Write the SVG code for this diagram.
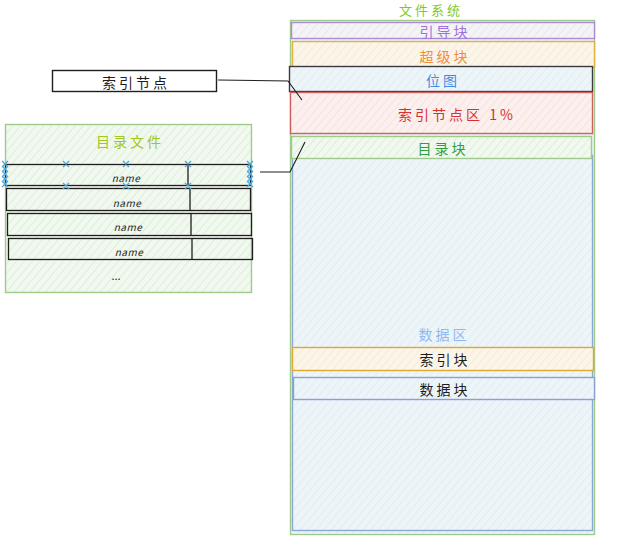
<svg xmlns="http://www.w3.org/2000/svg" width="630" height="558" viewBox="0 0 630 558">
<defs>
<pattern id="hg" width="6" height="6" patternUnits="userSpaceOnUse" patternTransform="rotate(40)"><rect width="6" height="6" fill="#f1f8ef"/><line x1="0" y1="0" x2="0" y2="6" stroke="#cbe4c3" stroke-width="1"/></pattern>
<pattern id="hb" width="6" height="6" patternUnits="userSpaceOnUse" patternTransform="rotate(40)"><rect width="6" height="6" fill="#eef5f9"/><line x1="0" y1="0" x2="0" y2="6" stroke="#d0e4f0" stroke-width="1"/></pattern>
<pattern id="hr" width="6" height="6" patternUnits="userSpaceOnUse" patternTransform="rotate(40)"><rect width="6" height="6" fill="#fbf0ee"/><line x1="0" y1="0" x2="0" y2="6" stroke="#f1d4cf" stroke-width="1"/></pattern>
<pattern id="ho" width="6" height="6" patternUnits="userSpaceOnUse" patternTransform="rotate(40)"><rect width="6" height="6" fill="#fbf5ea"/><line x1="0" y1="0" x2="0" y2="6" stroke="#f1e1c3" stroke-width="1"/></pattern>
<pattern id="hp" width="6" height="6" patternUnits="userSpaceOnUse" patternTransform="rotate(40)"><rect width="6" height="6" fill="#f4f4f6"/><line x1="0" y1="0" x2="0" y2="6" stroke="#dcdce3" stroke-width="1"/></pattern>
</defs>
<style>
text{font-family:"Noto Sans CJK SC","Noto Sans",sans-serif;font-size:14px;text-anchor:middle;dominant-baseline:central;letter-spacing:3px}
.nm{font-size:10px;font-style:italic;fill:#1e1e1e;letter-spacing:0.5px}
.bx{stroke-width:1.4}
.row{fill:none;stroke:#1e1e1e;stroke-width:1.3}
.ln{fill:none;stroke:#1e1e1e;stroke-width:1.1}
.hd{stroke:#4aa8e0;stroke-width:1.3;fill:none}
</style>
<g id="fs">
<rect x="290.5" y="20.5" width="304" height="514" fill="url(#hb)" stroke="#9fca8a" class="bx"/>
<text x="431" y="9" fill="#82c91e" style="font-size:13px">文件系统</text>
</g>
<g id="data-area">
<rect x="292.5" y="155.5" width="300" height="375" fill="url(#hb)" stroke="#8aa8d6" class="bx"/>
<text x="444" y="334" fill="#8fb8f0">数据区</text>
</g>
<g id="boot">
<rect x="291.5" y="22.5" width="303" height="16" fill="url(#hp)" stroke="#a98bd6" class="bx"/>
<text x="445" y="31" fill="#a070e0">引导块</text>
</g>
<g id="super">
<rect x="292.5" y="41.5" width="302" height="26" fill="url(#ho)" stroke="#e0b040" class="bx"/>
<text x="445" y="56" fill="#f08c3c">超级块</text>
</g>
<g id="bitmap">
<rect x="289.5" y="66.5" width="303" height="25" fill="url(#hb)" stroke="#3a3a3a" class="bx"/>
<text x="443" y="80" fill="#3c8ce6">位图</text>
</g>
<g id="inode-area">
<rect x="290.5" y="92.5" width="302" height="41" fill="url(#hr)" stroke="#d06060" class="bx"/>
<text x="457" y="114" fill="#d83030">索引节点区  1%</text>
</g>
<g id="dir-block">
<rect x="291.5" y="136.5" width="300" height="22" fill="url(#hg)" stroke="#9fca8a" class="bx"/>
<text x="443" y="148" fill="#2f9e44">目录块</text>
</g>
<g id="index-block">
<rect x="292.5" y="347.5" width="301" height="23" fill="url(#ho)" stroke="#e0a830" class="bx"/>
<text x="445" y="359" fill="#1e1e1e">索引块</text>
</g>
<g id="data-block">
<rect x="293.5" y="377.5" width="301" height="22" fill="url(#hb)" stroke="#8aa0d0" class="bx"/>
<text x="445" y="389" fill="#1e1e1e">数据块</text>
</g>
<g id="inode">
<rect x="52.5" y="70.5" width="164" height="21" fill="#ffffff" stroke="#1e1e1e" class="bx"/>
<text x="136" y="82" fill="#1e1e1e">索引节点</text>
</g>
<g id="dir-file">
<rect x="5.5" y="124.5" width="246" height="168" fill="url(#hg)" stroke="#9fca8a" class="bx"/>
<text x="130" y="141" fill="#a0c820">目录文件</text>
<rect x="5.5" y="164.5" width="245" height="21" class="row"/>
<line x1="188" y1="164" x2="188" y2="186" class="row"/>
<text x="126" y="177" class="nm">name</text>
<rect x="6.5" y="188.5" width="244" height="22" class="row"/>
<line x1="190" y1="188" x2="190" y2="211" class="row"/>
<text x="127" y="202" class="nm">name</text>
<rect x="7.5" y="213.5" width="244" height="22" class="row"/>
<line x1="191" y1="213" x2="191" y2="236" class="row"/>
<text x="128" y="226" class="nm">name</text>
<rect x="8.5" y="238.5" width="244" height="21" class="row"/>
<line x1="192" y1="238" x2="192" y2="260" class="row"/>
<text x="129" y="251" class="nm">name</text>
<text x="116" y="275" fill="#1e1e1e" style="font-size:11px;letter-spacing:0">...</text>
<g class="hd">
<path d="M2 161l6 6M8 161l-6 6M2 166l6 6M8 166l-6 6M2 171l6 6M8 171l-6 6M2 176l6 6M8 176l-6 6M2 181l6 6M8 181l-6 6"/>
<path d="M247 161l6 6M253 161l-6 6M247 166l6 6M253 166l-6 6M247 171l6 6M253 171l-6 6M247 176l6 6M253 176l-6 6M247 181l6 6M253 181l-6 6"/>
<path d="M63 161l6 6M69 161l-6 6M123 161l6 6M129 161l-6 6M185 161l6 6M191 161l-6 6"/>
<path d="M63 183l6 6M69 183l-6 6M123 183l6 6M129 183l-6 6M185 183l6 6M191 183l-6 6"/>
</g>
</g>
<g id="connectors">
<polyline points="218,80 288,81 302,100" class="ln"/>
<polyline points="260,172 290,172 305,142" class="ln"/>
</g>
</svg>
